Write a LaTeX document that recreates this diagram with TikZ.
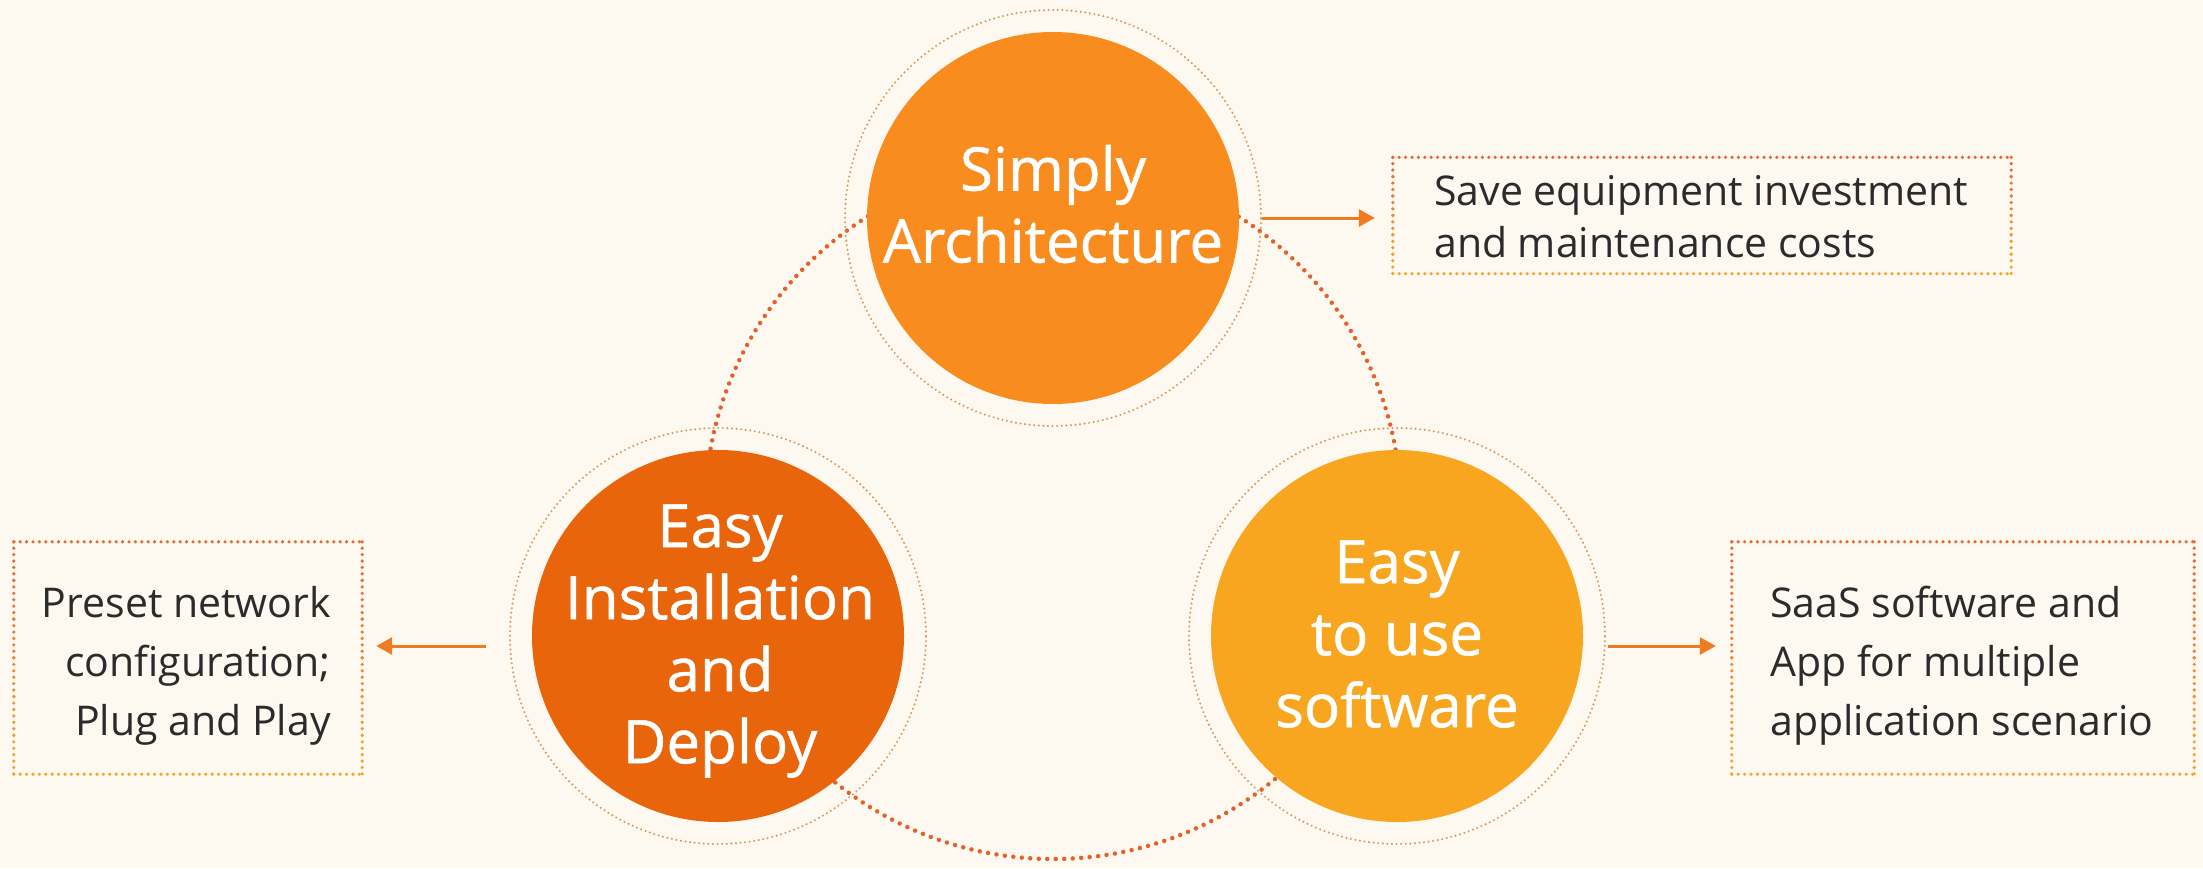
\documentclass[tikz,border=0pt]{standalone}
\usepackage{fontspec}
\setmainfont{Open Sans}
\newfontfamily\circfont{Open Sans}[FakeBold=0.9]
\usetikzlibrary{arrows.meta,calc}
\definecolor{bg}{HTML}{FDF9F1}
\definecolor{topc}{HTML}{F88C1E}
\definecolor{leftc}{HTML}{E8650C}
\definecolor{rightc}{HTML}{F8A620}
\definecolor{dotc}{HTML}{E2622A}
\definecolor{ringc}{HTML}{D99A60}
\definecolor{arrc}{HTML}{F07C22}
\definecolor{boxtop}{HTML}{EC6434}
\definecolor{boxbot}{HTML}{F2A82E}
\definecolor{txtc}{HTML}{2B2B2B}
\tikzset{
  bigdots/.style={draw=dotc, line width=4.5pt, line cap=round, dash pattern=on 0pt off 8.5pt},
  ringdots/.style={circle, draw=ringc, line width=2.3pt, line cap=round, dash pattern=on 0pt off 4.6pt, minimum size=416pt, inner sep=0pt},
  fillcirc/.style={circle, minimum size=372pt, inner sep=0pt},
  circtext/.style={text=white, align=center, inner sep=0pt, font=\circfont\fontsize{60}{72}\selectfont},
  boxdot/.style={line width=3.6pt, line cap=round, dash pattern=on 0pt off 6.4pt},
  boxnode/.style={rectangle, inner sep=0pt},
  boxtext/.style={text=txtc, inner sep=0pt, font=\fontsize{41}{59}\selectfont},
  arrowline/.style={draw=arrc, line width=3pt, -{Triangle[length=16pt,width=17pt]}}
}
\newcommand\gradborder[1]{%
  \draw[boxdot, draw=boxtop] (#1.north west) -- (#1.north east);
  \draw[boxdot, draw=boxbot] (#1.south west) -- (#1.south east);
  \foreach \i in {0,...,5}{%
    \pgfmathsetmacro\ga{\i/6}%
    \pgfmathsetmacro\gb{(\i+1)/6}%
    \pgfmathtruncatemacro\gp{100-\i*20}%
    \draw[boxdot, draw=boxtop!\gp!boxbot] ($(#1.north west)!\ga!(#1.south west)$) -- ($(#1.north west)!\gb!(#1.south west)$);
    \draw[boxdot, draw=boxtop!\gp!boxbot] ($(#1.north east)!\ga!(#1.south east)$) -- ($(#1.north east)!\gb!(#1.south east)$);
  }%
}
\begin{document}
\begin{tikzpicture}[x=1pt,y=-1pt]
\useasboundingbox[fill=bg] (0,0) rectangle (2203,868);
% big dotted circle
\coordinate (bigc) at (1053,511);
\draw[bigdots] (bigc) circle (348);
% rings
\node[ringdots] (topring) at (1053,218) {};
\node[ringdots] (leftring) at (718,636) {};
\node[ringdots] (rightring) at (1397,636) {};
% filled circles
\node[fillcirc, fill=topc] (top) at (1053,218) {};
\node[fillcirc, fill=leftc] (left) at (718,636) {};
\node[fillcirc, fill=rightc] (right) at (1397,636) {};
\node[circtext] (toplbl) at (1053,204) {Simply\\Architecture};
\node[circtext] (leftlbl) at (720,641) {Easy\\Installation\\and\\Deploy};
\node[circtext] (rightlbl) at (1397,634) {Easy\\to use\\software};
% boxes
\node[boxnode, minimum width=618pt, minimum height=116pt] (box1) at (1702,215.5) {};
\node[boxnode, minimum width=348pt, minimum height=232pt] (box2) at (188,658) {};
\node[boxnode, minimum width=462pt, minimum height=232pt] (box3) at (1963,658) {};
\gradborder{box1}
\gradborder{box2}
\gradborder{box3}
\node[boxtext, anchor=west, align=left, font=\fontsize{41}{52}\selectfont] (t1) at (1434,217) {Save equipment investment\\and maintenance costs};
\node[boxtext, anchor=east, align=right] (t2) at (331,666) {Preset network\\configuration;\\Plug and Play};
\node[boxtext, anchor=west, align=left] (t3) at (1770,666) {SaaS software and\\App for multiple\\application scenario};
% arrows
\coordinate (a1s) at (1262,218);
\coordinate (a2s) at (486,646);
\coordinate (a3s) at (1608,646);
\draw[arrowline] (a1s) -- ([xshift=-18pt]a1s -| box1.west);
\draw[arrowline] (a2s) -- ([xshift=14pt]a2s -| box2.east);
\draw[arrowline] (a3s) -- ([xshift=-16pt]a3s -| box3.west);
\end{tikzpicture}
\end{document}
